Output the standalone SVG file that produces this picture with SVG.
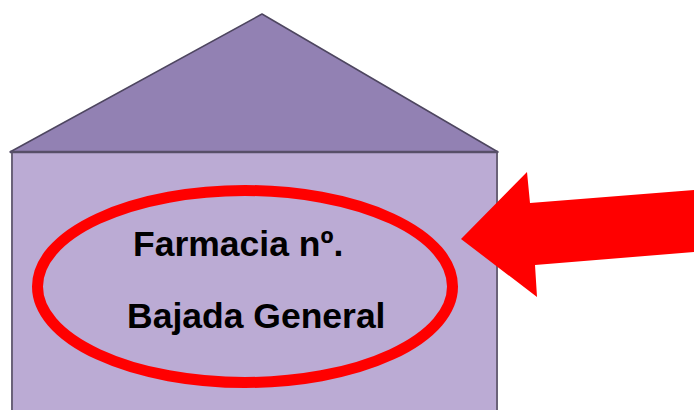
<svg xmlns="http://www.w3.org/2000/svg" width="694" height="410" viewBox="0 0 694 410">
<style>
.lbl{font-family:"Liberation Sans",Arial,sans-serif;font-weight:bold;font-size:35.5px;fill:#000}
</style>
<rect width="694" height="410" fill="#ffffff"/>
<g id="house">
<rect x="12" y="152" width="485" height="270" fill="#BBABD4" stroke="#6a6278" stroke-width="2"/>
<polygon points="10,152 262,14 498,152" fill="#9281B3" stroke="#4e4660" stroke-width="1.5" stroke-linejoin="round"/>
<line x1="10" y1="152" x2="498" y2="152" stroke="#574f68" stroke-width="2.5"/>
</g>
<g id="label">
<ellipse cx="245" cy="286.5" rx="207.5" ry="96" fill="none" stroke="#FF0000" stroke-width="11"/>
<text class="lbl" x="133" y="256">Farmacia nº.</text>
<text class="lbl" x="127" y="328">Bajada General</text>
</g>
<g id="connectors">
<polygon points="461,239 527,172 530,203 700,189.5 700,251.5 535,265 537,297" fill="#FF0000"/>
</g>
</svg>
